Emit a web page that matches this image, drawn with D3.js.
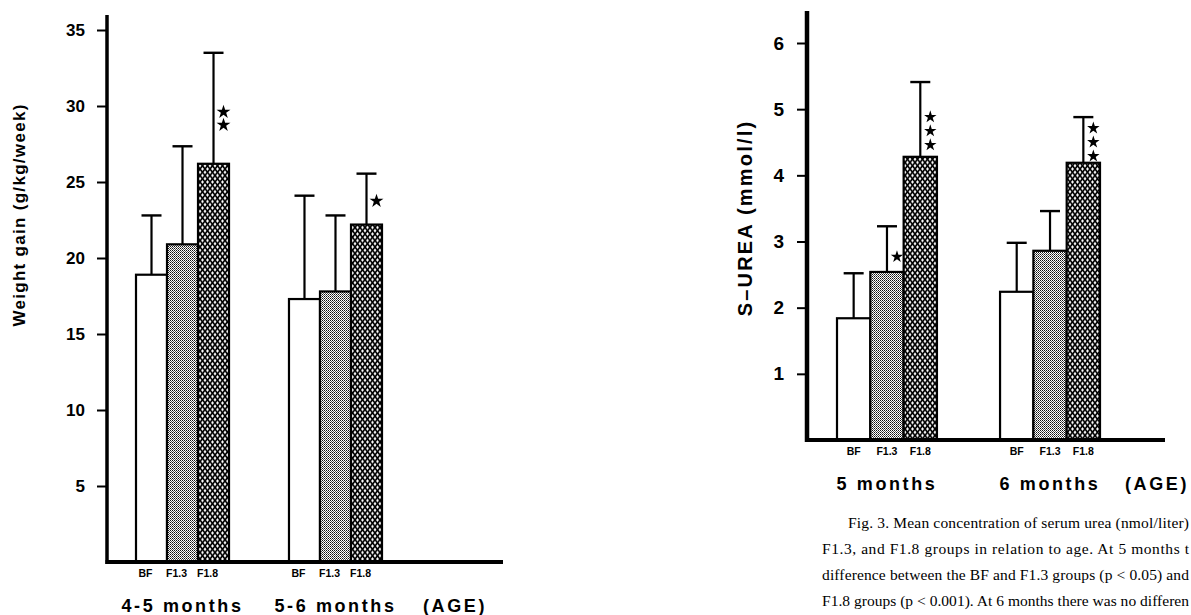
<!DOCTYPE html>
<html lang="en">
<head>
<meta charset="UTF-8">
<title>Weight gain and S-urea by feeding group</title>
<style>
  body { margin: 0; background: #fff; }
  svg { display: block; }
  .lbl { font-family: "Liberation Sans", Arial, sans-serif; font-weight: bold; fill: #000; }
  .caption { font-family: "Liberation Serif", "Times New Roman", serif; font-size: 15.5px; fill: #000; }
</style>
</head>
<body>
<svg id="fig" width="1191" height="615"></svg>
<script src="https://d3js.org/d3.v7.min.js"></script>
<script>
// groups on the bars
const feeds = ["BF", "F1.3", "F1.8"];

// left panel: weight gain (g/kg/week)
const weightAges = ["4-5 months", "5-6 months"];
const weightMean = [[18.9, 20.9, 26.2], [17.3, 17.8, 22.2]];
const weightSD = [[3.9, 6.45, 7.3], [6.8, 5.0, 3.35]];
const weightTicks = [5, 10, 15, 20, 25, 30, 35];
// significance stars: group, feed, number, level of lowest star
const weightStars = [
  { age: 0, feed: 2, n: 2, at: 28.75 },
  { age: 1, feed: 2, n: 1, at: 23.75 }
];

// right panel: serum urea (mmol/l)
const ureaAges = ["5 months", "6 months"];
const ureaMean = [[1.84, 2.54, 4.28], [2.24, 2.86, 4.19]];
const ureaSD = [[0.68, 0.69, 1.13], [0.74, 0.6, 0.69]];
const ureaTicks = [1, 2, 3, 4, 5, 6];
const ureaStars = [
  { age: 0, feed: 1, n: 1, at: 2.77 },
  { age: 0, feed: 2, n: 3, at: 4.46 },
  { age: 1, feed: 2, n: 3, at: 4.29 }
];

const captionLines = [
  "Fig. 3. Mean concentration of serum urea (nmol/liter)",
  "F1.3, and F1.8 groups in relation to age. At 5 months t",
  "difference between the BF and F1.3 groups (p < 0.05) and",
  "F1.8 groups (p < 0.001). At 6 months there was no differen"
];

const svg = d3.select("#fig");
const defs = svg.append("defs");

// fine stipple for F1.3
const dots = defs.append("pattern").attr("id", "dots")
  .attr("width", 2).attr("height", 2).attr("patternUnits", "userSpaceOnUse");
dots.append("rect").attr("width", 2).attr("height", 2).attr("fill", "#fff");
dots.append("rect").attr("width", 1).attr("height", 1).attr("fill", "#111");
dots.append("rect").attr("x", 1).attr("y", 1).attr("width", 1).attr("height", 1).attr("fill", "#555");

// diamond crosshatch for F1.8
const hatch = defs.append("pattern").attr("id", "hatch")
  .attr("width", 5).attr("height", 6.5).attr("patternUnits", "userSpaceOnUse");
hatch.append("rect").attr("width", 5).attr("height", 6.5).attr("fill", "#fff");
hatch.append("path").attr("d", "M0,0L5,6.5M5,0L0,6.5")
  .attr("stroke", "#000").attr("stroke-width", 1.7);

const fills = { "BF": "#fff", "F1.3": "url(#dots)", "F1.8": "url(#hatch)" };

function drawChart(o) {
  const g = svg.append("g");

  const y = d3.scaleLinear().domain([0, o.yMax]).range([o.y0, o.yTop]);
  const x0 = d3.scaleBand().domain(o.ages).range(o.xRange).paddingInner(o.pad);
  const x1 = d3.scaleBand().domain(feeds).range([0, x0.bandwidth()]);

  // y axis with ticks on the left
  const axis = d3.axisLeft(y).tickValues(o.ticks).tickSize(10)
    .tickPadding(o.tickPad).tickFormat(d3.format("d"));
  const ax = g.append("g").attr("transform", `translate(${o.axisX},0)`).call(axis);
  ax.select(".domain").remove();
  ax.selectAll(".tick line").attr("stroke", "#000").attr("stroke-width", 2);
  ax.selectAll(".tick text").attr("class", "lbl").style("font-size", o.tickFont + "px");

  // bars
  const rows = [];
  o.ages.forEach((a, i) => feeds.forEach((f, j) =>
    rows.push({ age: a, feed: f, mean: o.mean[i][j], sd: o.sd[i][j] })));

  const bx = d => x0(d.age) + x1(d.feed);
  const cx = d => bx(d) + x1.bandwidth() / 2;

  // error bars (upper only)
  g.selectAll(".err").data(rows).enter().append("line")
    .attr("x1", cx).attr("x2", cx)
    .attr("y1", d => y(d.mean)).attr("y2", d => y(d.mean + d.sd))
    .attr("stroke", "#000").attr("stroke-width", 2.2);
  g.selectAll(".cap").data(rows).enter().append("line")
    .attr("x1", d => cx(d) - 10).attr("x2", d => cx(d) + 10)
    .attr("y1", d => y(d.mean + d.sd)).attr("y2", d => y(d.mean + d.sd))
    .attr("stroke", "#000").attr("stroke-width", 2.4);

  g.selectAll(".bar").data(rows).enter().append("rect")
    .attr("x", bx).attr("width", x1.bandwidth())
    .attr("y", d => y(d.mean)).attr("height", d => y(0) - y(d.mean))
    .attr("fill", d => fills[d.feed])
    .attr("stroke", "#000").attr("stroke-width", 2.2);

  // stars
  const star = d3.symbol().type(d3.symbolStar).size(o.starSize);
  o.stars.forEach(s => {
    const d = { age: o.ages[s.age], feed: feeds[s.feed] };
    for (let k = 0; k < s.n; k++) {
      g.append("path").attr("d", star)
        .attr("transform", `translate(${cx(d) + 10},${y(s.at) - k * o.starGap})`)
        .attr("fill", "#000");
    }
  });

  // axes lines
  g.append("line").attr("x1", o.axisX).attr("x2", o.axisX)
    .attr("y1", y(0) + 2).attr("y2", o.axisTop)
    .attr("stroke", "#000").attr("stroke-width", o.axisW);
  g.append("line").attr("x1", o.axisX - 1.5).attr("x2", o.baseEnd)
    .attr("y1", y(0)).attr("y2", y(0))
    .attr("stroke", "#000").attr("stroke-width", 4);

  // feed labels under bars
  g.selectAll(".feedlbl").data(rows).enter().append("text")
    .attr("class", "lbl").style("font-size", "10.5px")
    .attr("x", d => cx(d) + o.feedDx).attr("y", y(0) + 15)
    .attr("text-anchor", "middle").text(d => d.feed);

  // age labels
  g.selectAll(".agelbl").data(o.ages).enter().append("text")
    .attr("class", "lbl").style("font-size", "18px").style("letter-spacing", "2.6px")
    .attr("x", d => x0(d) + x0.bandwidth() / 2).attr("y", o.ageY)
    .attr("text-anchor", "middle").text(d => d);
  g.append("text").attr("class", "lbl").style("font-size", "18px").style("letter-spacing", "2.6px")
    .attr("x", o.ageX).attr("y", o.ageY).attr("text-anchor", "middle").text("(AGE)");

  // y title
  g.append("text").attr("class", "lbl").style("font-size", o.titleFont + "px")
    .style("letter-spacing", o.titleLs + "px")
    .attr("transform", `translate(${o.titleX},${o.titleY}) rotate(-90)`)
    .attr("text-anchor", "middle").text(o.title);
}

drawChart({
  ages: weightAges, mean: weightMean, sd: weightSD, ticks: weightTicks, stars: weightStars,
  yMax: 35, y0: 562, yTop: 30, xRange: [136, 382], pad: 0.392,
  axisX: 107, axisTop: 15, axisW: 3.5, baseEnd: 503, tickPad: 12, tickFont: 17,
  starSize: 60, starGap: 13, feedDx: -6, ageY: 612, ageX: 455,
  title: "Weight gain  (g/kg/week)", titleX: 25, titleY: 215, titleFont: 17, titleLs: 1.3
});

drawChart({
  ages: ureaAges, mean: ureaMean, sd: ureaSD, ticks: ureaTicks, stars: ureaStars,
  yMax: 6, y0: 440, yTop: 43, xRange: [837, 1100], pad: 0.387,
  axisX: 807, axisTop: 11, axisW: 4.5, baseEnd: 1165, tickPad: 13, tickFont: 19,
  starSize: 48, starGap: 14, feedDx: 0, ageY: 490, ageX: 1157,
  title: "S\u2013UREA  (mmol/l)", titleX: 752, titleY: 218, titleFont: 20, titleLs: 2.2
});

// caption, set to run up to the right edge like the scan
const capRight = 1189;
svg.selectAll(".caption").data(captionLines).enter().append("text")
  .attr("class", "caption")
  .attr("x", (d, i) => i === 0 ? 848 : 822)
  .attr("y", (d, i) => 528 + i * 26)
  .attr("textLength", (d, i) => capRight - (i === 0 ? 848 : 822))
  .attr("lengthAdjust", "spacing")
  .text(d => d);
</script>
</body>
</html>
